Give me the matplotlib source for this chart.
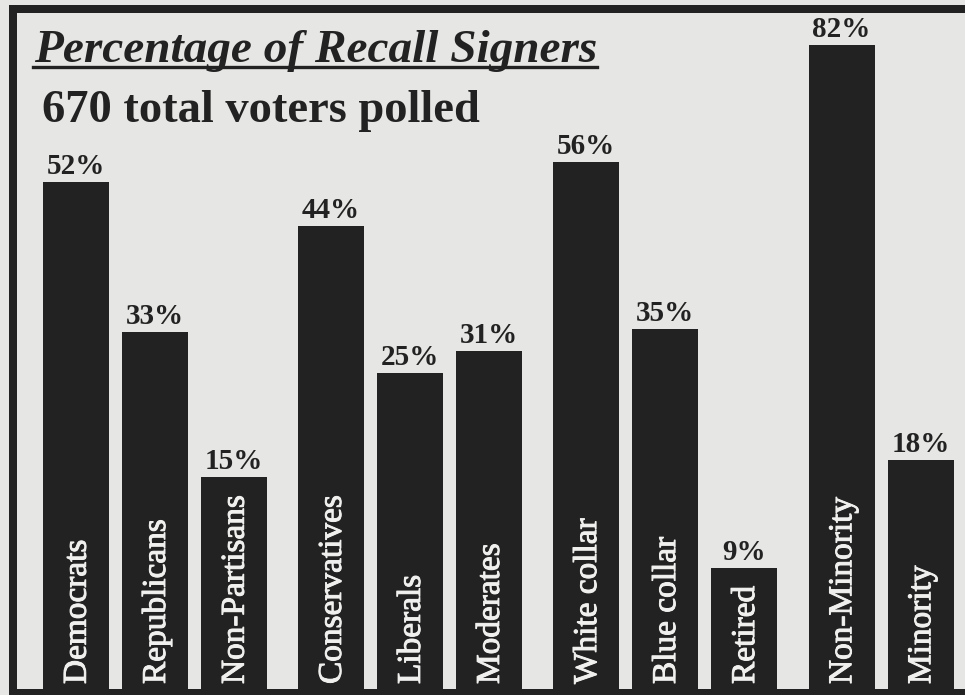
import matplotlib
matplotlib.use("Agg")
import matplotlib.pyplot as plt
from matplotlib.patches import Rectangle
from matplotlib.lines import Line2D
import matplotlib.patheffects as pe

# ---- data ----
categories = ["Democrats", "Republicans", "Non-Partisans",
              "Conservatives", "Liberals", "Moderates",
              "White collar", "Blue collar", "Retired",
              "Non-Minority", "Minority"]
groups = [0, 0, 0, 1, 1, 1, 2, 2, 2, 3, 3]
# printed percentages of recall signers
signers_pct = [52, 33, 15, 44, 25, 31, 56, 35, 9, 82, 18]
# bar heights as drawn in the graphic (not to scale), in percent-equivalent units
bar_heights = [64.6, 45.5, 27.0, 59.0, 40.2, 43.0, 67.1, 45.8, 15.4, 82.0, 29.2]

title = "Percentage of Recall Signers"
subtitle = "670 total voters polled"

# ---- style ----
W, H = 965, 695
paper = "#e6e6e4"
ink = "#222222"
serif = ["Liberation Serif", "DejaVu Serif"]

fig = plt.figure(figsize=(W / 100, H / 100), dpi=100, facecolor=paper)
ax = fig.add_axes([0, 0, 1, 1])
ax.set_facecolor(paper)
ax.axis("off")

unit_x = 79.0          # px per category step
x0_px = 76.0           # px centre of first bar
unit_y = 644.0 / 82.0  # px per height unit
base_px = 689.0        # px row of bar baseline

ax.set_xlim(-x0_px / unit_x, (W - x0_px) / unit_x)
ax.set_ylim(-(H - base_px) / unit_y, base_px / unit_y)

group_gap = 0.23
xs = [i + group_gap * g for i, g in enumerate(groups)]

ax.bar(xs, bar_heights, width=66 / unit_x, color=ink, linewidth=0, zorder=2)

label_fx = [pe.withStroke(linewidth=0.7, foreground="#f0f0ee")]
for x, h, p, name in zip(xs, bar_heights, signers_pct, categories):
    ax.text(x, h + 8 / unit_y, f"{p}%", ha="center", va="baseline",
            fontsize=21, fontweight="bold", family=serif, color=ink, zorder=3)
    ax.text(x + 1.5 / unit_x, 5 / unit_y, name, rotation=90, ha="center", va="bottom",
            fontsize=24, family=serif, color="#f0f0ee", zorder=3,
            path_effects=label_fx)

# frame: top and left rules, bottom strip
def px_rect(x, y, w, h):
    fig.patches.append(Rectangle((x / W, 1 - (y + h) / H), w / W, h / H,
                                 transform=fig.transFigure, facecolor=ink,
                                 edgecolor="none", zorder=1))

px_rect(9, 5, W - 9, 8)
px_rect(9, 5, 8, H - 5)
px_rect(9, base_px, W - 9, H - base_px)

# titles
t = fig.text(34 / W, 1 - 62 / H, title, ha="left", va="baseline",
             fontsize=34, fontweight="bold", style="italic", family=serif, color=ink)
fig.text(42 / W, 1 - 122 / H, subtitle, ha="left", va="baseline",
         fontsize=33.5, fontweight="bold", family=serif, color=ink)

fig.canvas.draw()
bb = t.get_window_extent()
uy = 1 - 66.5 / H
fig.lines.append(Line2D([bb.x0 / W - 1 / W, bb.x1 / W], [uy, uy],
                        transform=fig.transFigure, color=ink, linewidth=2.4))

fig.savefig("out.png", dpi=100, facecolor=paper)
